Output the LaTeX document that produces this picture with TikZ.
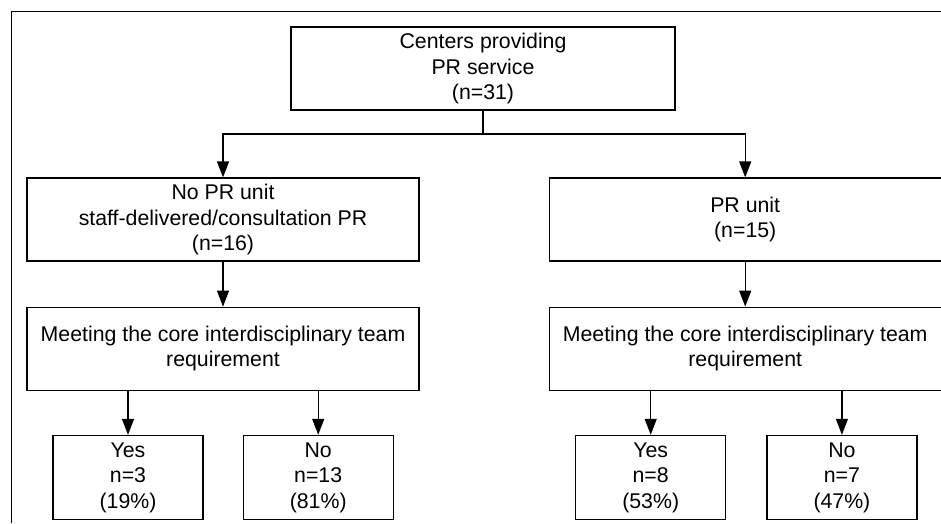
\documentclass[tikz,border=0pt]{standalone}
\usepackage{fontspec}
\setmainfont{Liberation Sans}
\usetikzlibrary{positioning,arrows.meta}

\begin{document}
\begin{tikzpicture}[
					x=1pt,y=-1pt,
					font=\fontsize{21.3}{25.5}\selectfont,
					box/.style={rectangle,draw,line width=1.2pt,align=center,inner sep=0pt,minimum height=83pt},
					wide/.style={box,minimum width=392pt},
					small/.style={box,minimum width=150pt,minimum height=84pt},
					arr/.style={-{Triangle[length=16pt,width=12pt]},line width=1.2pt},
					]
					\useasboundingbox (0,0) rectangle (941,523);
					\draw[line width=1pt] (11,523) -- (11,11) -- (941,11);
					\node [box,minimum width=384pt] (top) at (483,68.5) {Centers providing\\ PR service\\ (n=31)};
					\node [wide] (nounit) at (223,219.5) {No PR unit\\ staff-delivered/consultation PR\\ (n=16)};
					\node [wide,right=129pt of nounit] (unit) {PR unit\\ (n=15)};
					\node [wide,below=45pt of nounit] (coreA) {Meeting the core interdisciplinary team\\ requirement};
					\node [wide,below=45pt of unit] (coreB) {Meeting the core interdisciplinary team\\ requirement};
					\node [small,below=44pt of coreA,xshift=-95pt] (yesA) {Yes\\ n=3\\ (19\%)};
					\node [small,right=39pt of yesA] (noA) {No\\ n=13\\ (81\%)};
					\node [small,below=44pt of coreB,xshift=-94.5pt] (yesB) {Yes\\ n=8\\ (53\%)};
					\node [small,right=40pt of yesB] (noB) {No\\ n=7\\ (47\%)};
					\coordinate (split) at (483,134);
					\draw[line width=1.2pt] (top) -- (split);
					\draw[arr] (split) -| (nounit);
					\draw[arr] (split) -| (unit);
					\draw[arr] (nounit) -- (coreA);
					\draw[arr] (unit) -- (coreB);
					\draw[arr] (coreA.south -| yesA) -- (yesA);
					\draw[arr] (coreA.south -| noA) -- (noA);
					\draw[arr] (coreB.south -| yesB) -- (yesB);
					\draw[arr] (coreB.south -| noB) -- (noB);
				\end{tikzpicture}
\end{document}
